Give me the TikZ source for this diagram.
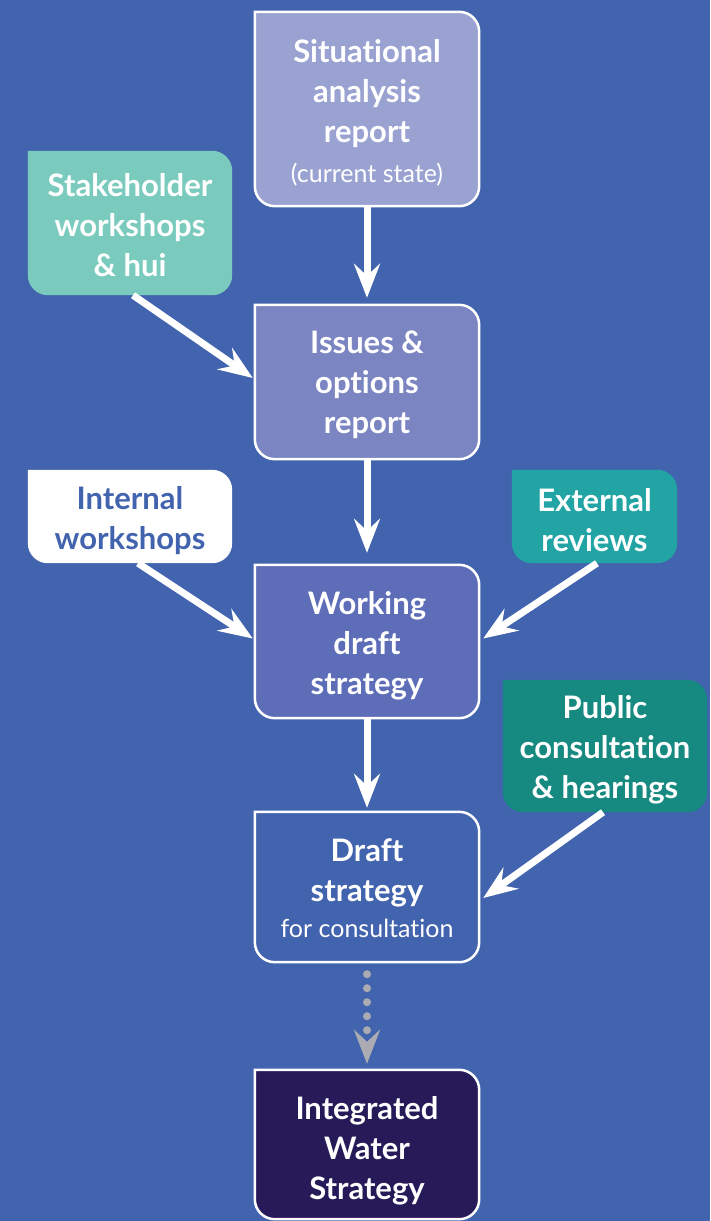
\documentclass[tikz,border=0pt]{standalone}
\usepackage{fontspec}
\setmainfont{Lato}[Ligatures={NoCommon}]
\usetikzlibrary{arrows.meta,backgrounds}
\definecolor{bg}{HTML}{4263AD}
\definecolor{sitfill}{HTML}{9AA2D2}
\definecolor{issfill}{HTML}{7B85C2}
\definecolor{workfill}{HTML}{5D6DB8}
\definecolor{intfill}{HTML}{261A59}
\definecolor{stakefill}{HTML}{7ACBBE}
\definecolor{extfill}{HTML}{22A4A4}
\definecolor{pubfill}{HTML}{168A80}
\definecolor{dotgray}{HTML}{ABABB3}
\newcommand\cornerbox[3]{%
  \path[fill=#2,#3] (#1.north west) -- ([xshift=-20pt]#1.north east)
    arc[start angle=90,end angle=0,radius=20pt] -- ([yshift=20pt]#1.south east)
    arc[start angle=0,end angle=-90,radius=20pt] -- ([xshift=20pt]#1.south west)
    arc[start angle=270,end angle=180,radius=20pt] -- cycle;}
\tikzset{
  boxshape/.style={minimum width=224pt, inner sep=0pt},
  txt/.style={inner sep=0pt, align=center, text=white,
    font=\fontsize{31}{40}\selectfont\bfseries},
  border/.style={draw=white, line width=2.5pt},
  noborder/.style={draw=none},
  wide/.style={draw=white, line width=7pt, -{Stealth[length=34pt,width=26pt,inset=12pt]}},
  dotarrow/.style={draw=dotgray, line width=8pt, line cap=round, dash pattern=on 0pt off 14pt,
    -{Stealth[length=34pt,width=26pt,inset=12pt,fill=dotgray]}}
}
\begin{document}
\begin{tikzpicture}[x=1pt,y=-1pt]
\useasboundingbox (0,0) rectangle (710,1221);
% box shapes
\node[boxshape, minimum height=194pt] (sit) at (367,109) {};
\node[boxshape, minimum height=154pt] (iss) at (367,382) {};
\node[boxshape, minimum height=153pt] (work) at (367,641.5) {};
\node[boxshape, minimum height=150pt] (draft) at (367,887) {};
\node[boxshape, minimum height=149pt] (integ) at (367,1144.5) {};
\node[boxshape, minimum width=204pt, minimum height=144pt] (stake) at (130,223) {};
\node[boxshape, minimum width=204pt, minimum height=93pt] (inter) at (130,516.5) {};
\node[boxshape, minimum width=165pt, minimum height=93pt] (ext) at (594.5,516.5) {};
\node[boxshape, minimum width=204pt, minimum height=132pt] (pub) at (605,746) {};
% texts
\node[txt] (sitT) at ([yshift=-4pt]sit.center)
  {Situational\\analysis\\report\\{\fontsize{25}{40}\selectfont\mdseries (current state)}};
\node[txt] (issT) at ([yshift=-3pt]iss.center) {Issues \&\\options\\report};
\node[txt] (workT) at ([yshift=-4pt]work.center) {Working\\draft\\strategy};
\node[txt] (draftT) at ([yshift=-1.5pt]draft.center)
  {Draft\\strategy\\[-4pt]{\fontsize{25}{40}\selectfont\mdseries for consultation}};
\node[txt] (integT) at ([yshift=-6pt]integ.center) {Integrated\\Water\\Strategy};
\node[txt] (stakeT) at ([yshift=-2pt]stake.center) {Stakeholder\\workshops\\\& hui};
\node[txt, text=bg] (interT) at ([yshift=-4pt]inter.center) {Internal\\workshops};
\node[txt] (extT) at ([yshift=-4pt]ext.center) {External\\reviews};
\node[txt] (pubT) at ([yshift=-4pt]pub.center) {Public\\consultation\\\& hearings};
\begin{scope}[on background layer]
  \fill[bg] (0,0) rectangle (710,1221);
  \cornerbox{sit}{sitfill}{border}
  \cornerbox{iss}{issfill}{border}
  \cornerbox{work}{workfill}{border}
  \cornerbox{draft}{bg}{border}
  \cornerbox{integ}{intfill}{border}
  \cornerbox{stake}{stakefill}{noborder}
  \cornerbox{inter}{white}{noborder}
  \cornerbox{ext}{extfill}{noborder}
  \cornerbox{pub}{pubfill}{noborder}
\end{scope}
% connectors
\draw[wide] (sit.south) -- ([yshift=7pt]iss.north);
\draw[wide] (iss.south) -- ([yshift=12pt]work.north);
\draw[wide] (work.south) -- ([yshift=4pt]draft.north);
\draw[wide] ([xshift=3pt]stake.south) -- ([xshift=-2pt,yshift=4pt]iss.west);
\draw[wide] ([xshift=8pt]inter.south) -- ([xshift=-2pt,yshift=3pt]work.west);
\draw[wide] ([xshift=2.5pt]ext.south) -- ([xshift=4pt,yshift=3pt]work.east);
\draw[wide] ([xshift=-2pt]pub.south) -- ([xshift=4pt,yshift=-11pt]draft.east);
\draw[dotarrow] ([yshift=-12pt]draft.south) -- ([yshift=6pt]integ.north);
\end{tikzpicture}
\end{document}
